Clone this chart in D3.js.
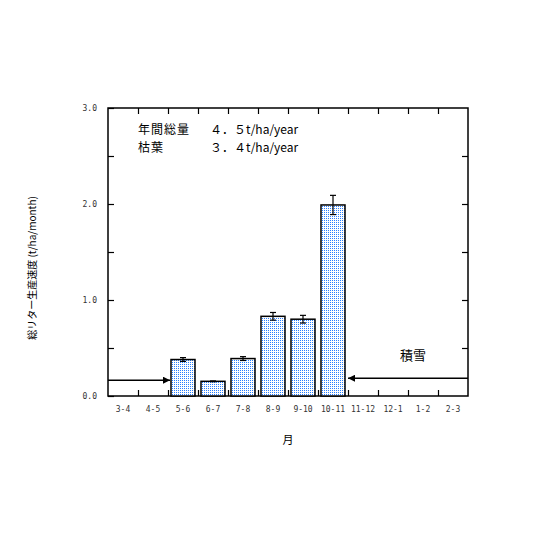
<!DOCTYPE html>
<html>
<head>
<meta charset="utf-8">
<script src="https://cdn.jsdelivr.net/npm/d3@7"></script>
<style>
  body { margin: 0; background: #fff; }
  svg text { font-family: "Noto Sans CJK JP", "DejaVu Sans", sans-serif; }
</style>
</head>
<body>
<div id="viz"></div>
<script>
// months (category labels)
var months = ["3-4", "4-5", "5-6", "6-7", "7-8", "8-9", "9-10", "10-11", "11-12", "12-1", "1-2", "2-3"];
// litter production rate, t/ha/month (null = no bar)
var litter = [null, null, 0.38, 0.153, 0.39, 0.83, 0.80, 1.99, null, null, null, null];
var litterErr = [null, null, 0.02, 0.004, 0.02, 0.04, 0.04, 0.10, null, null, null, null];
var yTicks = [0, 0.5, 1, 1.5, 2, 2.5, 3];
// snow cover arrows: start month, end month, level
var snowArrows = [
  { from: "3-4", to: "5-6", level: 0.165, dir: "right" },
  { from: "2-3", to: "10-11", level: 0.185, dir: "left" }
];
var notes = [
  ["年間総量", "４．５t/ha/year"],
  ["枯葉", "３．４t/ha/year"]
];

var margin = { top: 108, left: 108 },
  width = 360,
  height = 288;

var svg = d3.select("#viz").append("svg")
  .attr("width", 540).attr("height", 540);

var defs = svg.append("defs");
var pat = defs.append("pattern")
  .attr("id", "dots")
  .attr("patternUnits", "userSpaceOnUse")
  .attr("width", 2).attr("height", 2);
pat.append("rect").attr("width", 2).attr("height", 2).attr("fill", "#ffffff");
pat.append("rect").attr("width", 1).attr("height", 1).attr("fill", "#2a7fff");

defs.append("marker")
  .attr("id", "head")
  .attr("viewBox", "0 0 10 10")
  .attr("refX", 10).attr("refY", 5)
  .attr("markerWidth", 9).attr("markerHeight", 7)
  .attr("markerUnits", "userSpaceOnUse")
  .attr("orient", "auto")
  .append("path").attr("d", "M0,0 L10,5 L0,10 Z").attr("fill", "#000");

var g = svg.append("g")
  .attr("transform", "translate(" + margin.left + "," + margin.top + ")");

var xScale = d3.scaleBand().domain(months).range([0, width])
  .paddingInner(0.2).paddingOuter(0.1);
var xEdge = d3.scaleLinear().domain([0, months.length]).range([0, width]);
var yScale = d3.scaleLinear().domain([0, 3]).range([height, 0]);

// frame
g.append("rect")
  .attr("width", width).attr("height", height)
  .attr("fill", "none").attr("stroke", "#000").attr("stroke-width", 1.5);

// bars
var barData = months.map(function (m, i) {
  return { m: m, v: litter[i], e: litterErr[i] };
}).filter(function (d) { return d.v != null; });

g.selectAll("rect.bar")
  .data(barData)
  .enter()
  .append("rect")
  .attr("class", "bar")
  .attr("x", function (d) { return xScale(d.m); })
  .attr("y", function (d) { return yScale(d.v); })
  .attr("width", xScale.bandwidth())
  .attr("height", function (d) { return height - yScale(d.v); })
  .attr("fill", "url(#dots)")
  .attr("stroke", "#000")
  .attr("stroke-width", 1.5);

// error bars
var err = g.selectAll("g.err").data(barData).enter().append("g").attr("class", "err")
  .attr("stroke", "#000").attr("stroke-width", 1.2);
err.append("line")
  .attr("x1", function (d) { return xScale(d.m) + xScale.bandwidth() / 2; })
  .attr("x2", function (d) { return xScale(d.m) + xScale.bandwidth() / 2; })
  .attr("y1", function (d) { return yScale(d.v + d.e); })
  .attr("y2", function (d) { return yScale(d.v - d.e); });
[1, -1].forEach(function (s) {
  err.append("line")
    .attr("x1", function (d) { return xScale(d.m) + xScale.bandwidth() / 2 - 3; })
    .attr("x2", function (d) { return xScale(d.m) + xScale.bandwidth() / 2 + 3; })
    .attr("y1", function (d) { return yScale(d.v + s * d.e); })
    .attr("y2", function (d) { return yScale(d.v + s * d.e); });
});

// inward ticks on all four sides
var edgeTicks = d3.range(1, months.length);
var styleAxis = function (sel) {
  sel.select(".domain").remove();
  sel.selectAll(".tick line").attr("stroke", "#000").attr("stroke-width", 1.2);
};
g.append("g").call(d3.axisBottom(xEdge).tickValues(edgeTicks).tickSize(-6).tickFormat(""))
  .attr("transform", "translate(0," + height + ")").call(styleAxis);
g.append("g").call(d3.axisTop(xEdge).tickValues(edgeTicks).tickSize(-6).tickFormat(""))
  .call(styleAxis);
g.append("g").call(d3.axisRight(yScale).tickValues(yTicks.slice(1, -1)).tickSize(-6).tickFormat(""))
  .attr("transform", "translate(" + width + ",0)").call(styleAxis);
g.append("g")
  .call(d3.axisLeft(yScale).tickValues(yTicks).tickSize(-6).tickPadding(11)
    .tickFormat(function (d) { return d % 1 === 0 ? d3.format(".1f")(d) : ""; }))
  .call(styleAxis)
  .call(function (s) {
    s.selectAll(".tick text").attr("font-size", 8).attr("fill", "#333")
      .style("font-family", "DejaVu Sans Mono");
  });

// month labels
g.append("g")
  .attr("transform", "translate(0," + height + ")")
  .call(d3.axisBottom(xScale).tickSize(0).tickPadding(10))
  .call(function (s) {
    s.select(".domain").remove();
    s.selectAll(".tick text").attr("font-size", 8).attr("fill", "#333")
      .style("font-family", "DejaVu Sans Mono");
  });

// snow arrows
g.selectAll("line.snow")
  .data(snowArrows)
  .enter()
  .append("line")
  .attr("class", "snow")
  .attr("x1", function (d) {
    return d.dir === "right" ? xEdge(months.indexOf(d.from)) : xEdge(months.indexOf(d.from) + 1);
  })
  .attr("x2", function (d) {
    return d.dir === "right" ? xScale(d.to) - 1 : xScale(d.to) + xScale.bandwidth() + 3;
  })
  .attr("y1", function (d) { return yScale(d.level); })
  .attr("y2", function (d) { return yScale(d.level); })
  .attr("stroke", "#000").attr("stroke-width", 1.5)
  .attr("marker-end", "url(#head)");

g.append("text")
  .attr("x", xEdge(10) - 8)
  .attr("y", yScale(0.375))
  .attr("font-size", 13)
  .text("積雪");

// annotation
var note = g.selectAll("g.note").data(notes).enter().append("g")
  .attr("transform", function (d, i) { return "translate(30," + (26 + i * 17.5) + ")"; });
note.append("text").attr("font-size", 12).attr("letter-spacing", 1).text(function (d) { return d[0]; });
note.append("text").attr("x", 72).attr("font-size", 12).text(function (d) { return d[1]; });

// axis titles
svg.append("text")
  .attr("transform", "translate(36,268) rotate(-90)")
  .attr("text-anchor", "middle")
  .attr("font-size", 10)
  .text("総リター生産速度 (t/ha/month)");

svg.append("text")
  .attr("x", 288).attr("y", 444)
  .attr("text-anchor", "middle")
  .attr("font-size", 11)
  .text("月");
</script>
</body>
</html>
